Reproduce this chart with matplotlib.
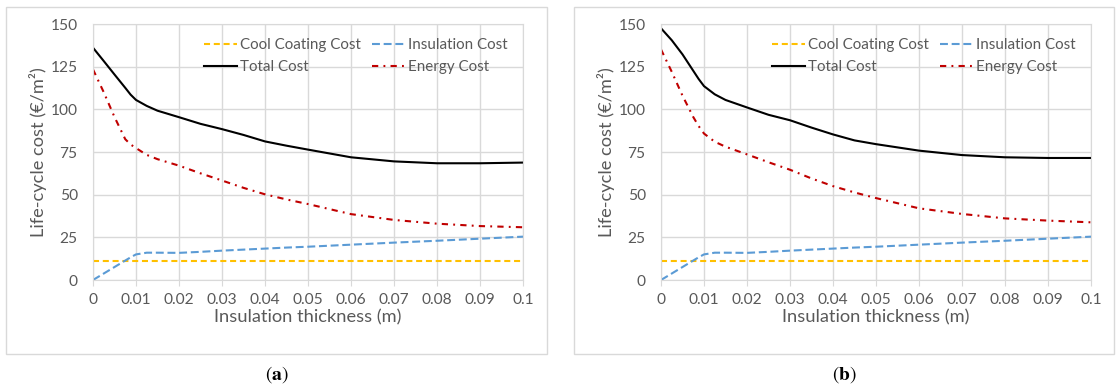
import matplotlib
matplotlib.use("Agg")
import matplotlib.pyplot as plt
from matplotlib.patches import Rectangle
from matplotlib.textpath import TextPath
from matplotlib.font_manager import FontProperties

plt.rcParams['font.family'] = ['Lato', 'DejaVu Sans']
plt.rcParams['mathtext.fontset'] = 'stix'

# insulation thickness (m)
thickness = [0, 0.0025, 0.005, 0.0075, 0.00875, 0.01, 0.0125, 0.015, 0.02, 0.025, 0.03,
             0.035, 0.04, 0.045, 0.05, 0.06, 0.07, 0.08, 0.09, 0.1]

coating_cost = [11.3] * len(thickness)
insulation_cost = [0, 3.8, 7.6, 11.4, 13.3, 15.0, 16.0, 16.0, 15.9, 16.5, 17.2,
                   17.8, 18.4, 19.0, 19.5, 20.7, 21.9, 23.0, 24.2, 25.4]

total_a = [136.1, 128.3, 120.4, 112.6, 108.6, 105.5, 102.0, 99.2, 95.4, 91.5, 88.4,
           85.0, 81.2, 78.7, 76.4, 71.9, 69.5, 68.4, 68.4, 68.8]
energy_a = [123.4, 110.0, 95.5, 82.5, 79.4, 77.3, 73.3, 70.8, 67.0, 62.5, 58.3,
            54.0, 50.2, 47.2, 44.5, 38.6, 35.2, 33.0, 31.6, 30.9]

total_b = [147.5, 140.5, 132.2, 122.6, 117.8, 113.6, 108.8, 105.5, 101.1, 96.8, 93.6,
           89.3, 85.3, 81.8, 79.6, 75.8, 73.2, 71.9, 71.5, 71.5]
energy_b = [135.1, 122.0, 108.0, 95.5, 90.2, 85.8, 81.0, 78.1, 73.6, 69.0, 64.6,
            59.5, 55.0, 51.3, 48.0, 42.0, 38.7, 36.1, 34.8, 33.8]

xticks = [0, 0.01, 0.02, 0.03, 0.04, 0.05, 0.06, 0.07, 0.08, 0.09, 0.1]
xtick_labels = ['0', '0.01', '0.02', '0.03', '0.04', '0.05', '0.06', '0.07', '0.08', '0.09', '0.1']
yticks = [0, 25, 50, 75, 100, 125, 150]

W, H = 1120, 388
grey = '#595959'
grid = '#D9D9D9'


def fit_size(text, px):
    # font size (pt) that makes text about px pixels wide at dpi 100
    w = TextPath((0, 0), text, size=1, prop=FontProperties(family='Lato')).get_extents().width
    return px * 0.72 / w


tick_size = fit_size('0.01', 29)
label_size = fit_size('Insulation thickness (m)', 185)
legend_size = fit_size('Cool Coating Cost', 120)
lf = legend_size / 0.72  # legend font size in px

fig = plt.figure(figsize=(W / 100, H / 100), dpi=100)


def draw_panel(left_px, total, energy, letter, box_left, box_right):
    ax = fig.add_axes([left_px / W, 1 - 280 / H, 430 / W, 256 / H])
    l1, = ax.plot(thickness, coating_cost, color='#FFC000', lw=1.5, dashes=(2.9, 1.8))
    l2, = ax.plot(thickness, insulation_cost, color='#5B9BD5', lw=1.5, dashes=(3.8, 1.8))
    l3, = ax.plot(thickness, total, color='black', lw=1.5)
    l4, = ax.plot(thickness, energy, color='#C00000', lw=1.5, dashes=(3, 2.5, 0.9, 2.5))

    ax.set_xlim(0, 0.1)
    ax.set_ylim(0, 150)
    ax.set_xticks(xticks)
    ax.set_xticklabels(xtick_labels)
    ax.set_yticks(yticks)
    ax.grid(True, color=grid, lw=1)
    ax.set_axisbelow(True)
    for s in ax.spines.values():
        s.set_color(grid)
    ax.tick_params(axis='x', length=4, color=grid, pad=5, labelsize=tick_size, labelcolor=grey)
    ax.tick_params(axis='y', length=0, pad=11, labelsize=tick_size, labelcolor=grey)

    ax.set_xlabel('Insulation thickness (m)', fontsize=label_size, color=grey)
    ax.xaxis.set_label_coords(0.5, -0.115)
    ax.set_ylabel('Life-cycle cost (€/m²)', fontsize=label_size, color=grey)
    ax.yaxis.set_label_coords(-0.107, 0.5)

    top = 1 - (40 - 0.6 * lf - 24) / 256
    ax.legend([l1, l3, l2, l4],
              ['Cool Coating Cost', 'Total Cost', 'Insulation Cost', 'Energy Cost'],
              ncol=2, frameon=False, loc='upper left', bbox_to_anchor=((196 - 93) / 430, top),
              borderpad=0, handlelength=33 / lf, handletextpad=3 / lf, columnspacing=12 / lf,
              labelspacing=(26 - 1.2 * lf) / lf, fontsize=legend_size, labelcolor=grey)

    fig.add_artist(Rectangle((box_left / W, 1 - 354 / H), (box_right - box_left) / W, 347 / H,
                             transform=fig.transFigure, fill=False, edgecolor=grid, lw=1))
    fig.text((box_left + box_right) / 2 / W, 1 - 375 / H, r'$(\mathbf{' + letter + '})$',
             ha='center', va='center', fontsize=14, color='black')
    return ax


draw_panel(93, total_a, energy_a, 'a', 6, 547)
draw_panel(661, total_b, energy_b, 'b', 574, 1114)

fig.savefig('out.png', dpi=100)
